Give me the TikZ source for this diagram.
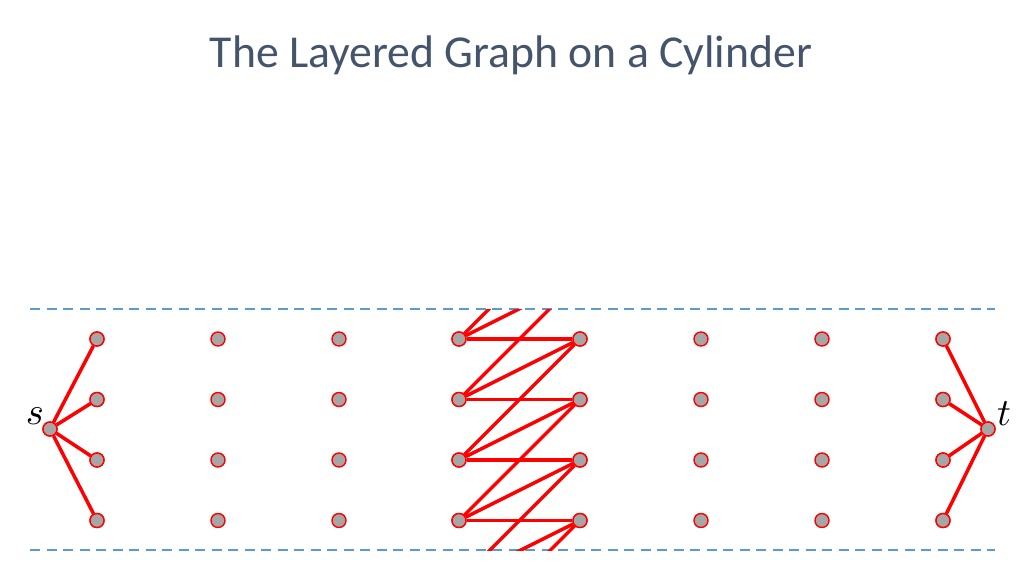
\documentclass[tikz,border=0pt]{standalone}
\usepackage{fontspec}
\newfontfamily\titlefont{Carlito}
\definecolor{titlecol}{HTML}{44546A}
\definecolor{bandcol}{HTML}{5B9BD5}
\definecolor{dotcol}{HTML}{A6A6A6}
\tikzset{
  dot/.style={circle, draw=red, line width=0.4pt, fill=dotcol, minimum size=0.14cm, inner sep=0pt},
  edge/.style={draw=red, line width=1pt},
  band/.style={draw=bandcol, line width=0.55pt, dash pattern=on 0.1cm off 0.065cm}
}
\begin{document}
\begin{tikzpicture}
        \useasboundingbox (0,0) rectangle (10.24,5.76);
        \node[text=titlecol, font=\titlefont\fontsize{13}{16}\selectfont] at (5.11,5.21) (title) {The Layered Graph on a Cylinder};

        % band of the cylinder
        \coordinate (topl) at (0.30,2.67);
        \coordinate (topr) at (9.95,2.67);
        \coordinate (botl) at (0.30,0.26);
        \coordinate (botr) at (9.95,0.26);
        \draw[band] (topl)--(topr);
        \draw[band] (botl)--(botr);

        \node[dot] at (0.50,1.47) (s) {};
        \node[dot] at (9.88,1.47) (t) {};
        \node[font=\fontsize{11}{13}\selectfont] at (0.35,1.60) (slab) {$s$};
        \node[font=\fontsize{11}{13}\selectfont] at (10.04,1.62) (tlab) {$t$};

        \node[dot] at (0.97,2.37) (a1) {};
        \node[dot] at (0.97,1.765) (a2) {};
        \node[dot] at (0.97,1.16) (a3) {};
        \node[dot] at (0.97,0.555) (a4) {};
        \node[dot] at (2.18,2.37) (b1) {};
        \node[dot] at (2.18,1.765) (b2) {};
        \node[dot] at (2.18,1.16) (b3) {};
        \node[dot] at (2.18,0.555) (b4) {};
        \node[dot] at (3.39,2.37) (c1) {};
        \node[dot] at (3.39,1.765) (c2) {};
        \node[dot] at (3.39,1.16) (c3) {};
        \node[dot] at (3.39,0.555) (c4) {};
        \node[dot] at (4.59,2.37) (d1) {};
        \node[dot] at (4.59,1.765) (d2) {};
        \node[dot] at (4.59,1.16) (d3) {};
        \node[dot] at (4.59,0.555) (d4) {};
        \node[dot] at (5.80,2.37) (e1) {};
        \node[dot] at (5.80,1.765) (e2) {};
        \node[dot] at (5.80,1.16) (e3) {};
        \node[dot] at (5.80,0.555) (e4) {};
        \node[dot] at (7.01,2.37) (f1) {};
        \node[dot] at (7.01,1.765) (f2) {};
        \node[dot] at (7.01,1.16) (f3) {};
        \node[dot] at (7.01,0.555) (f4) {};
        \node[dot] at (8.22,2.37) (g1) {};
        \node[dot] at (8.22,1.765) (g2) {};
        \node[dot] at (8.22,1.16) (g3) {};
        \node[dot] at (8.22,0.555) (g4) {};
        \node[dot] at (9.43,2.37) (h1) {};
        \node[dot] at (9.43,1.765) (h2) {};
        \node[dot] at (9.43,1.16) (h3) {};
        \node[dot] at (9.43,0.555) (h4) {};

        % copies of the rows beyond the seam
        \coordinate (e0) at (5.80,2.975);
        \coordinate (em1) at (5.80,3.58);
        \coordinate (d5) at (4.59,-0.05);
        \coordinate (d6) at (4.59,-0.655);

        \draw[edge] (s)--(a1);
        \draw[edge] (s)--(a2);
        \draw[edge] (s)--(a3);
        \draw[edge] (s)--(a4);
        \draw[edge] (h1)--(t);
        \draw[edge] (h2)--(t);
        \draw[edge] (h3)--(t);
        \draw[edge] (h4)--(t);

        \draw[edge] (d1)--(e1);
        \draw[edge] (d2)--(e2);
        \draw[edge] (d3)--(e3);
        \draw[edge] (d4)--(e4);
        \draw[edge] (d2)--(e1);
        \draw[edge] (d3)--(e2);
        \draw[edge] (d4)--(e3);
        \draw[edge] (d3)--(e1);
        \draw[edge] (d4)--(e2);

        \begin{scope}
        \clip (topl) rectangle (botr);
        \draw[edge] (d1)--(e0);
        \draw[edge] (d1)--(em1);
        \draw[edge] (d2)--(e0);
        \draw[edge] (d5)--(e4);
        \draw[edge] (d6)--(e4);
        \draw[edge] (d5)--(e3);
        \end{scope}

        % redraw the dots on top of the edges
        \foreach \n in {s,t,d1,d2,d3,d4,e1,e2,e3,e4,a1,a2,a3,a4,h1,h2,h3,h4}
          \node[dot] at (\n) {};
      \end{tikzpicture}
\end{document}
